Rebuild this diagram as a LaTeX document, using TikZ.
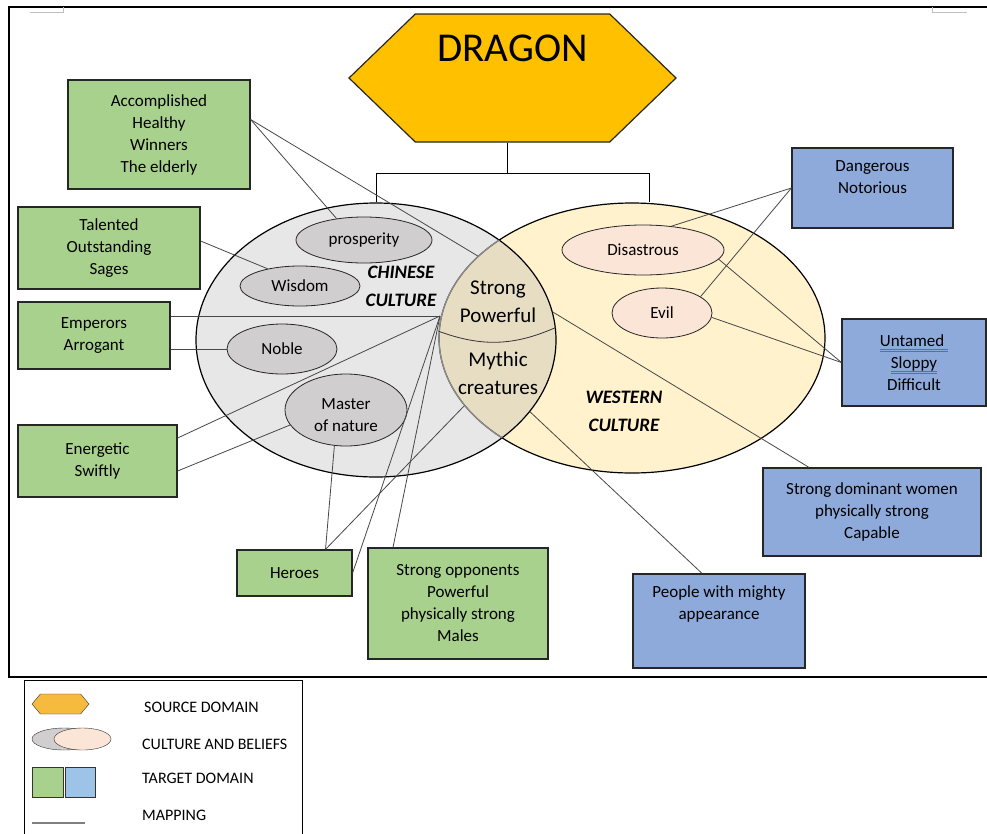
\documentclass[tikz,border=0pt]{standalone}
\usepackage{fontspec}
\setmainfont{Carlito}
\usepackage{tikz}
\usetikzlibrary{shapes.geometric, shapes.symbols, positioning}

\definecolor{dragonorange}{HTML}{FFC000}
\definecolor{legorange}{HTML}{F6BA3E}
\definecolor{tgreen}{HTML}{A9D18E}
\definecolor{tblue}{HTML}{8EAADB}
\definecolor{legblue}{HTML}{9DC3E6}
\definecolor{cngray}{HTML}{D0CECE}
\definecolor{cnfill}{RGB}{177,177,177}
\definecolor{wsfill}{HTML}{FFF2CC}
\definecolor{wspink}{HTML}{FBE5D6}
\definecolor{boxline}{HTML}{262626}
\definecolor{ulblue}{HTML}{4472C4}

\newcommand\boxfont{\fontsize{17}{22}\selectfont}
\newcommand\overlapfont{\fontsize{21}{28}\selectfont}
\newcommand\culturefont{\fontsize{19}{28}\selectfont\bfseries\itshape}
\newcommand\legendfont{\fontsize{16}{18}\selectfont}
\newcommand\dblline[1]{\setbox0=\hbox{#1}\rlap{\color{ulblue}\rule[-3pt]{\wd0}{0.8pt}}\rlap{\color{ulblue}\rule[-5.5pt]{\wd0}{0.8pt}}\box0}

\begin{document}
\begin{tikzpicture}[x=1pt, y=-1pt,
  greenbox/.style={rectangle, draw=boxline, line width=1.2pt, fill=tgreen, align=center, font=\boxfont, inner sep=0pt},
  bluebox/.style={greenbox, fill=tblue},
  cnbub/.style={ellipse, draw=black!85, line width=0.8pt, fill=cngray, inner sep=0pt, align=center, font=\boxfont},
  wsbub/.style={cnbub, fill=wspink},
  culture/.style={font=\culturefont, align=center},
  legtext/.style={anchor=west, inner sep=0pt, font=\legendfont},
  map/.style={draw=black!72, line width=0.8pt},
  tree/.style={draw=black, line width=0.8pt}
]
  \useasboundingbox (0,0) rectangle (987,833);
  \draw[line width=1.6pt] (9,7) rectangle (1000,677);
  \draw[black!25, line width=1pt] (30,12) -- (63,12) -- (63,7);
  \draw[black!25, line width=1pt] (967,12) -- (932,12) -- (932,7);

  \node[signal, signal to=east and west, signal pointer angle=88, draw=black!85, line width=1.2pt, fill=dragonorange, minimum width=327pt, minimum height=128pt, inner sep=0pt, text height=26pt, text depth=60pt, font=\fontsize{41}{41}\selectfont] (dragon) at (512.5,78) {DRAGON};

  \node[ellipse, draw=black, line width=1.2pt, fill=wsfill, minimum width=386pt, minimum height=270pt, inner sep=0pt] (west) at (632,338) {};
  \node[ellipse, draw=black, line width=1.2pt, fill=cnfill, fill opacity=0.31, minimum width=360pt, minimum height=274pt, inner sep=0pt] (china) at (376,340) {};
  \begin{scope}
    \clip (376,340) ellipse [x radius=180pt, y radius=137pt];
    \draw[black!45, line width=1.2pt] (632,338) ellipse [x radius=193pt, y radius=135pt];
  \end{scope}
  \draw[black!80, line width=0.8pt] (west.178) to[bend right=22] (china.4);

  \node[font=\overlapfont, align=center] (strong) at (498,302) {Strong\\Powerful};
  \node[font=\overlapfont, align=center] (mythic) at (498,373) {Mythic\\creatures};
  \node[culture] (cnlabel) at (401,286) {CHINESE\\CULTURE};
  \node[culture] (wslabel) at (624,411) {WESTERN\\CULTURE};

  \node[cnbub, minimum width=136pt, minimum height=46pt] (pros) at (364,240) {prosperity};
  \node[cnbub, minimum width=120pt, minimum height=40pt] (wis) at (300,286) {Wisdom};
  \node[cnbub, minimum width=110pt, minimum height=50pt] (nob) at (282,349) {Noble};
  \node[cnbub, minimum width=122pt, minimum height=72pt, text height=43pt] (mas) at (346,410) {Master\\of nature};
  \node[wsbub, minimum width=162pt, minimum height=50pt] (dis) at (643,250) {Disastrous};
  \node[wsbub, minimum width=100pt, minimum height=50pt] (evi) at (662,313) {Evil};

  \node[greenbox, minimum width=182pt, minimum height=109pt] (acc) at (159,134.5) {Accomplished\\Healthy\\Winners\\The elderly};
  \node[greenbox, minimum width=182pt, minimum height=82pt] (tal) at (109,248) {Talented\\Outstanding\\Sages};
  \node[greenbox, minimum width=152pt, minimum height=67pt] (emp) at (94,335.5) {Emperors\\Arrogant};
  \node[greenbox, minimum width=159pt, minimum height=72pt] (ene) at (97.5,461) {Energetic\\Swiftly};
  \node[greenbox, minimum width=115pt, minimum height=46pt] (her) at (294.5,573) {Heroes};
  \node[greenbox, minimum width=180pt, minimum height=111pt] (opp) at (458,603.5) {Strong opponents\\Powerful\\physically strong\\Males};

  \node[bluebox, minimum width=161pt, minimum height=80pt, text depth=22pt] (dan) at (872.5,188) {Dangerous\\Notorious};
  \node[bluebox, minimum width=144pt, minimum height=87pt] (unt) at (914,362.5) {\dblline{Untamed~}\\\dblline{Sloppy}\\Difficult};
  \node[bluebox, minimum width=218pt, minimum height=88pt] (wom) at (872,512) {Strong dominant women\\physically strong\\Capable};
  \node[bluebox, minimum width=172pt, minimum height=94pt, text depth=36pt] (peo) at (719,621) {People with mighty\\appearance};

  \coordinate (hub) at (440,316);
  \draw[tree] ([xshift=-5pt]dragon.south) -- ++(0,31) coordinate (fork);
  \draw[tree] (china.north) |- (fork) -| ([xshift=17pt]west.north);

  \draw[map] ([yshift=15pt]acc.east) -- (pros.142);
  \draw[map] ([yshift=15pt]acc.east) -- (west.152);
  \draw[map] ([yshift=7pt]tal.east) -- (wis.152);
  \draw[map] (hub -| emp.east) -- (hub);
  \draw[map] (nob.west -| emp.east) -- (nob.west);
  \draw[map] ([yshift=23pt]ene.east) -- (hub);
  \draw[map] ([yshift=-10pt]ene.east) -- (mas.195);
  \draw[map] ([xshift=31pt]her.north) -- (mas.252);
  \draw[map] ([xshift=31pt]her.north) -- (west.202);
  \draw[map] (her.east) -- (hub);
  \draw[map] ([xshift=-65pt]opp.north) -- (hub);
  \draw[map] (dan.west) -- (dis.40);
  \draw[map] (dan.west) -- (evi.23);
  \draw[map] (dis.-7) -- (unt.west);
  \draw[map] (evi.-5) -- (unt.west);
  \draw[map] (china.9) -- ([xshift=-63pt]wom.north);
  \draw[map] (china.-25) -- ([xshift=-17pt]peo.north);

  \node[draw=black, line width=1.4pt, minimum width=278pt, minimum height=170pt, anchor=north west, inner sep=0pt] (legend) at (24,680) {};
  \node[signal, signal to=east and west, signal pointer angle=100, draw=black!80, fill=legorange, minimum width=57pt, minimum height=20pt, inner sep=0pt] (lhex) at (60.5,704) {};
  \node[ellipse, draw=black!80, fill=cngray, minimum width=64pt, minimum height=22pt, inner sep=0pt] (lgray) at (64,739) {};
  \node[ellipse, draw=black!80, fill=wspink, minimum width=57pt, minimum height=22pt, inner sep=0pt] (lpink) at (82.5,739) {};
  \node[draw=black!80, fill=tgreen, minimum width=31pt, minimum height=30pt, inner sep=0pt] (lgreen) at (47.5,782) {};
  \node[draw=black!80, fill=legblue, minimum width=30pt, minimum height=30pt, inner sep=0pt] (lblue) at (80,782) {};
  \coordinate (lmapa) at (32,823);
  \coordinate (lmapb) at (85,823);
  \draw[black!50, line width=2pt] (lmapa) -- (lmapb);
  \node[legtext] (lsrc) at (144,707) {SOURCE DOMAIN};
  \node[legtext] (lcul) at (142,744) {CULTURE AND BELIEFS};
  \node[legtext] (ltgt) at (142,778) {TARGET DOMAIN};
  \node[legtext] (lmap) at (142,815) {MAPPING};
\end{tikzpicture}
\end{document}
